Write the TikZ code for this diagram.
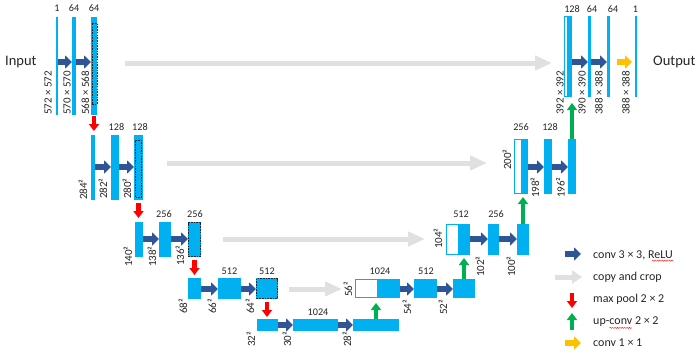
\documentclass[tikz,border=0pt]{standalone}
\usepackage{fontspec}
\setmainfont{Carlito}
\usetikzlibrary{arrows.meta,decorations.pathmorphing}
\definecolor{ublue}{HTML}{00B0F0}
\definecolor{darr}{HTML}{2F5597}
\definecolor{garr}{HTML}{E0E0E0}
\definecolor{rarr}{HTML}{FF0000}
\definecolor{gnarr}{HTML}{00B050}
\definecolor{yarr}{HTML}{FFC000}
\definecolor{txt}{HTML}{262626}
\tikzset{
  barbox/.style={rectangle, inner sep=0pt, outer sep=0pt, anchor=north west, fill=ublue, draw=none},
  wbox/.style={fill=white, draw=ublue, line width=0.8pt},
  dbox/.style={fill=none, draw=black!85, dash pattern=on 1.6pt off 1.1pt, line width=0.6pt},
  bluar/.style={draw=darr, line width=6pt, -{Triangle[width=13pt,length=7pt]}},
  yelar/.style={draw=yarr, line width=6pt, -{Triangle[width=13pt,length=7pt]}},
  grayar/.style={draw=garr, line width=5pt, -{Triangle[width=14pt,length=17pt]}},
  graylg/.style={draw=garr, line width=5pt, -{Triangle[width=13pt,length=10pt]}},
  redar/.style={draw=rarr, line width=4.5pt, -{Triangle[width=10pt,length=7pt]}},
  grnar/.style={draw=gnarr, line width=4.5pt, -{Triangle[width=10pt,length=7pt]}},
  toplab/.style={inner sep=0pt, text=txt, font=\fontsize{10.2}{12}\selectfont},
  rotlab/.style={inner sep=0pt, text=txt, rotate=90, anchor=west, font=\fontsize{11}{13}\selectfont},
  legtxt/.style={inner sep=0pt, text=txt, anchor=west, font=\fontsize{12}{14}\selectfont},
  iolab/.style={inner sep=0pt, text=txt, anchor=west, font=\fontsize{14.5}{17}\selectfont},
  squig/.style={draw=red!85, line width=0.45pt, decorate, decoration={snake, amplitude=0.6pt, segment length=2.4pt}}
}
\newcommand\mkbar[6][]{\node[barbox,#1,minimum width={(#4-#3)*1pt},minimum height={(#6-#5)*1pt}] (#2) at (#3,#5) {};}
\begin{document}
\begin{tikzpicture}[x=1pt,y=-1pt]
\fill[white] (0,0) rectangle (699,356);
\useasboundingbox (0,0) rectangle (699,356);
% row coordinates
\coordinate (r1) at (0,62);
\coordinate (r2) at (0,167);
\coordinate (r3) at (0,239);
\coordinate (r4) at (0,289);
\coordinate (r5) at (0,325);
% copy and crop arrows (behind)
\coordinate (c1s) at (125,63); \coordinate (c1e) at (552,63);
\coordinate (c2s) at (167,163); \coordinate (c2e) at (487,163);
\coordinate (c3s) at (223,239); \coordinate (c3e) at (425,239);
\coordinate (c4s) at (289,289); \coordinate (c4e) at (342,289);
\draw[grayar] (c1s) -- (c1e);
\draw[grayar] (c2s) -- (c2e);
\draw[grayar] (c3s) -- (c3e);
\draw[grayar] (c4s) -- (c4e);
% level 1 left
\mkbar{a1}{56}{58}{17}{115}
\mkbar{a2}{72}{76}{17}{115}
\mkbar{a3}{91}{97}{17}{115}
\mkbar[dbox]{a3d}{92}{97}{23}{104}
% level 2 left
\mkbar{b1}{91}{95}{135}{200}
\mkbar{b2}{111}{119}{135}{200}
\mkbar{b3}{134}{143}{135}{200}
\mkbar[dbox]{b3d}{135.5}{141.5}{140}{197}
% level 3 left
\mkbar{c1}{135}{143}{222}{257}
\mkbar{c2}{159}{171}{222}{257}
\mkbar{c3}{188}{201}{222}{257}
\mkbar[dbox]{c3d}{188.5}{200.5}{222.5}{256.5}
% level 4 left
\mkbar{d1}{188}{201}{278}{299}
\mkbar{d2}{218}{241}{278}{299}
\mkbar{d3}{256}{278}{278}{299}
\mkbar[dbox]{d3d}{256.5}{277.5}{278.5}{298.5}
% level 5
\mkbar{e1}{257}{278}{319}{331}
\mkbar{e2}{293}{338}{319}{331}
\mkbar{e3}{353}{399}{319}{331}
% level 4 right
\mkbar[wbox]{f0w}{355.5}{377}{279.5}{297.5}
\mkbar{f0}{377}{400}{279}{298}
\mkbar{f1}{414}{437}{279}{298}
\mkbar{f2}{453}{475}{279}{298}
% level 3 right
\mkbar[wbox]{g0w}{446.5}{458}{224.5}{254.5}
\mkbar{g0}{458}{470}{224}{255}
\mkbar{g1}{488}{499}{224}{255}
\mkbar{g2}{517}{529}{224}{255}
% level 2 right
\mkbar[wbox]{h0w}{514.5}{521}{139.5}{193.5}
\mkbar{h0}{521}{528}{139}{194}
\mkbar{h1}{544}{552}{139}{194}
\mkbar{h2}{568}{576}{139}{194}
% level 1 right
\mkbar[wbox]{i0w}{564.5}{567.5}{16.5}{96.5}
\mkbar{i0}{567}{572}{16}{97}
\mkbar{i1}{588}{591}{16}{97}
\mkbar{i2}{607}{610}{16}{97}
\mkbar{i3}{635}{637}{16}{97}
% conv arrows
\draw[bluar] (a1.east |- r1) -- (a2.west |- r1);
\draw[bluar] (a2.east |- r1) -- (a3.west |- r1);
\draw[bluar] (b1.east |- r2) -- (b2.west |- r2);
\draw[bluar] (b2.east |- r2) -- (b3.west |- r2);
\draw[bluar] (c1.east |- r3) -- (c2.west |- r3);
\draw[bluar] (c2.east |- r3) -- (c3.west |- r3);
\draw[bluar] (d1.east |- r4) -- (d2.west |- r4);
\draw[bluar] (d2.east |- r4) -- (d3.west |- r4);
\draw[bluar] (e1.east |- r5) -- (e2.west |- r5);
\draw[bluar] (e2.east |- r5) -- (e3.west |- r5);
\draw[bluar] (f0.east |- r4) -- (f1.west |- r4);
\draw[bluar] (f1.east |- r4) -- (f2.west |- r4);
\draw[bluar] (g0.east |- r3) -- (g1.west |- r3);
\draw[bluar] (g1.east |- r3) -- (g2.west |- r3);
\draw[bluar] (h0.east |- r2) -- (h1.west |- r2);
\draw[bluar] (h1.east |- r2) -- (h2.west |- r2);
\draw[bluar] (i0.east |- r1) -- (i1.west |- r1);
\draw[bluar] (i1.east |- r1) -- (i2.west |- r1);
\draw[yelar] ([xshift=7pt]i2.east |- r1) -- ([xshift=-3pt]i3.west |- r1);
% max pool
\draw[redar] ([yshift=-1pt]a3.south) -- ++(0,15);
\draw[redar] ([yshift=-3pt]b3.south) -- ++(0,15);
\draw[redar] ([yshift=-3pt]c3.south) -- ++(0,15);
\draw[redar] ([yshift=-3pt]d3.south) -- ++(0,15);
% up-conv
\draw[grnar] (e3.north) -- ++(0,-16);
\draw[grnar] (f2.north) -- ++(0,-21);
\draw[grnar] (g2.north) -- ++(0,-27);
\draw[grnar] (h2.north) -- ++(0,-36);
% channel labels
\node[toplab] (ta1) at (57,8) {1};
\node[toplab] (ta2) at (74,8) {64};
\node[toplab] (ta3) at (94,8) {64};
\node[toplab] (tb2) at (116.5,127) {128};
\node[toplab] (tb3) at (140,127) {128};
\node[toplab] (tc2) at (164,214) {256};
\node[toplab] (tc3) at (195,214) {256};
\node[toplab] (td2) at (229.5,271) {512};
\node[toplab] (td3) at (267,271) {512};
\node[toplab] (te2) at (318,312) {1024};
\node[toplab] (tf0) at (380,271) {1024};
\node[toplab] (tf1) at (426,271) {512};
\node[toplab] (tg0) at (461,214) {512};
\node[toplab] (tg1) at (496,214) {256};
\node[toplab] (th0) at (521,127) {256};
\node[toplab] (th1) at (550,127) {128};
\node[toplab] (ti0) at (572,9) {128};
\node[toplab] (ti1) at (592,9) {64};
\node[toplab] (ti2) at (613,9) {64};
\node[toplab] (ti3) at (635.5,9) {1};
% size labels
\node[rotlab] (sa1) at (48,115) {572 × 572};
\node[rotlab] (sa2) at (67,115) {570 × 570};
\node[rotlab] (sa3) at (85.5,115) {568 × 568};
\node[rotlab] (sb1) at (83,200) {284²};
\node[rotlab] (sb2) at (103,199) {282²};
\node[rotlab] (sb3) at (127,199) {280²};
\node[rotlab] (sc1) at (128,267) {140²};
\node[rotlab] (sc2) at (152,267) {138²};
\node[rotlab] (sc3) at (180,266) {136²};
\node[rotlab] (sd1) at (183,314) {68²};
\node[rotlab] (sd2) at (212,314) {66²};
\node[rotlab] (sd3) at (250,314) {64²};
\node[rotlab] (se1) at (251,347) {32²};
\node[rotlab] (se2) at (287,347) {30²};
\node[rotlab] (se3) at (347,347) {28²};
\node[rotlab] (sf0) at (348,297) {56²};
\node[rotlab] (sf1) at (407,315) {54²};
\node[rotlab] (sf2) at (443,315) {52²};
\node[rotlab] (sg0) at (438,249) {104²};
\node[rotlab] (sg1) at (480,277) {102²};
\node[rotlab] (sg2) at (511,277) {100²};
\node[rotlab] (sh0) at (507,170) {200²};
\node[rotlab] (sh1) at (535,198) {198²};
\node[rotlab] (sh2) at (560.5,198) {196²};
\node[rotlab] (si0) at (560,115) {392 × 392};
\node[rotlab] (si1) at (582,115) {390 × 390};
\node[rotlab] (si2) at (599,115) {388 × 388};
\node[rotlab] (si3) at (626,115) {388 × 388};
% input / output
\node[iolab] (inp) at (5,62) {Input};
\node[iolab] (outp) at (653,62) {Output};
% legend
\coordinate (l1s) at (565,254); \coordinate (l1e) at (581,254);
\coordinate (l2s) at (555,277); \coordinate (l2e) at (582,277);
\coordinate (l3s) at (572,293); \coordinate (l3e) at (572,308);
\coordinate (l4s) at (572,330); \coordinate (l4e) at (572,313);
\coordinate (l5s) at (565,343); \coordinate (l5e) at (581,343);
\draw[bluar] (l1s) -- (l1e);
\draw[graylg] (l2s) -- (l2e);
\draw[redar] (l3s) -- (l3e);
\draw[grnar] (l4s) -- (l4e);
\draw[yelar] (l5s) -- (l5e);
\node[legtxt] (lt1) at (593,255) {conv 3 × 3, ReLU};
\node[legtxt] (lt2) at (593,277) {copy and crop};
\node[legtxt] (lt3) at (593,299) {max pool 2 × 2};
\node[legtxt] (lt4) at (593,322) {up-conv 2 × 2};
\node[legtxt] (lt5) at (593,343) {conv 1 × 1};
\draw[squig] ([xshift=-21pt,yshift=-0.8pt]lt1.south east) -- ([yshift=-0.8pt]lt1.south east);
\draw[squig] ([xshift=16.5pt,yshift=-0.8pt]lt4.south west) -- ([xshift=39pt,yshift=-0.8pt]lt4.south west);
\end{tikzpicture}
\end{document}
